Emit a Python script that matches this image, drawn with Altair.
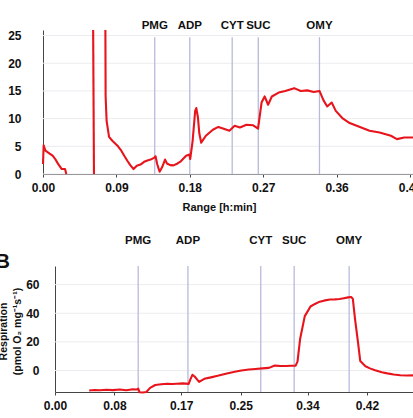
import altair as alt
import pandas as pd

FONT = "Liberation Sans"
RED = "#e8141b"
EVENT_COLOR = "#b8badc"
AXIS_COLOR = "#444444"
GRID_COLOR = "#ececf0"

# ---- Panel A: oxygen flux trace, recorded in three segments ----
a_seg1_time = [0.000, 0.0008, 0.003, 0.006, 0.009, 0.0118, 0.015, 0.0174, 0.020, 0.023, 0.027, 0.0286]
a_seg1_flux = [1.8, 5.2, 4.2, 3.9, 3.6, 3.3, 2.7, 2.1, 1.5, 0.9, 0.9, 0.0]

a_seg2_time = [0.0615, 0.0625]
a_seg2_flux = [26.0, 0.0]

a_seg3_time = [0.0765, 0.0768, 0.078, 0.081, 0.085, 0.0885, 0.092, 0.096, 0.100, 0.1034,
               0.107, 0.111, 0.115, 0.1195, 0.124, 0.128, 0.132, 0.136, 0.138, 0.140,
               0.143, 0.146, 0.1497, 0.152, 0.156, 0.160, 0.165, 0.169, 0.1755, 0.1795,
               0.1805, 0.1835, 0.1866, 0.188, 0.190, 0.1917, 0.194, 0.1997, 0.2083, 0.215,
               0.2207, 0.2286, 0.235, 0.2415, 0.2495, 0.2577, 0.2637, 0.268, 0.2718, 0.276,
               0.2806, 0.289, 0.297, 0.308, 0.316, 0.324, 0.332, 0.339, 0.344, 0.3485,
               0.354, 0.359, 0.367, 0.376, 0.3886, 0.4004, 0.4127, 0.4266, 0.434, 0.443,
               0.4537]
a_seg3_flux = [26.0, 14.0, 9.6, 6.7, 6.0, 5.5, 5.0, 4.2, 3.2, 2.4,
               1.6, 0.9, 1.5, 1.7, 2.2, 2.45, 2.6, 2.9, 3.2, 1.8,
               0.4, 1.2, 2.6, 1.9, 1.6, 1.55, 1.9, 2.3, 3.3, 3.5,
               2.7, 6.0, 11.4, 11.9, 10.2, 7.3, 5.65, 6.9, 8.0, 8.5,
               8.2, 7.8, 8.7, 8.4, 8.9, 8.8, 8.2, 12.9, 14.0, 12.5,
               14.0, 14.7, 15.0, 15.5, 15.0, 15.1, 14.8, 15.0, 13.3, 12.2,
               12.9, 11.4, 10.1, 9.2, 8.5, 7.8, 7.5, 6.9, 6.3, 6.6,
               6.6]

# ---- Panel B: oxygen flux trace ----
b_time = [0.046, 0.053, 0.0605, 0.069, 0.078, 0.087, 0.096, 0.103, 0.110, 0.112,
          0.114, 0.118, 0.123, 0.128, 0.135, 0.143, 0.151, 0.158, 0.164, 0.172,
          0.180, 0.182, 0.185, 0.188, 0.194, 0.201, 0.210, 0.219, 0.230, 0.242,
          0.251, 0.261, 0.270, 0.279, 0.288, 0.296, 0.304, 0.311, 0.318, 0.324,
          0.3265, 0.330, 0.3363, 0.344, 0.350, 0.355, 0.362, 0.370, 0.377, 0.383,
          0.389, 0.3946, 0.399, 0.401, 0.404, 0.408, 0.411, 0.418, 0.424, 0.431,
          0.440, 0.4475, 0.456, 0.465, 0.474, 0.482]
b_flux = [-14.0, -13.6, -13.8, -13.4, -13.7, -13.3, -13.8, -13.2, -13.3, -12.6,
          -15.2, -15.3, -15.0, -12.1, -10.1, -9.6, -9.2, -9.4, -9.2, -9.0,
          -9.3, -6.5, -3.0, -4.2, -7.9, -5.8, -4.8, -3.7, -2.2, -0.8,
          0.0, 0.7, 1.1, 1.5, 1.85, 3.45, 3.2, 3.15, 3.3, 3.4,
          6.2, 22.0, 38.0, 44.7, 46.5, 47.8, 48.8, 49.6, 49.7, 49.9,
          50.5, 51.1, 51.3, 50.0, 35.8, 19.5, 6.6, 3.0, 1.5, 0.2,
          -1.2, -2.0, -2.8, -3.3, -3.5, -3.4]

# ---- Substrate / inhibitor additions ----
event_names = ["PMG", "ADP", "CYT", "SUC", "OMY"]
a_event_time = [0.137, 0.180, 0.232, 0.264, 0.339]
b_event_time = [0.112, 0.179, 0.277, 0.322, 0.396]

# ---- Axis ticks ----
a_xticks = [0.00, 0.09, 0.18, 0.27, 0.36, 0.45]
a_yticks = [0, 5, 10, 15, 20, 25]
b_xticks = [0.00, 0.08, 0.17, 0.25, 0.34, 0.42]
b_yticks = [0, 20, 40, 60]

W, H = 413, 418

# Frame of each panel inside the shared canvas
A_X = alt.Scale(domain=[0, 0.4537], range=[43, 413], nice=False, zero=False)
A_Y = alt.Scale(domain=[0, 26], range=[174, 30], nice=False, zero=False)
B_X = alt.Scale(domain=[0, 0.482], range=[55, 413], nice=False, zero=False)
B_Y = alt.Scale(domain=[-15, 73], range=[392, 266], nice=False, zero=False)
A_TOP, B_TOP = 24.7, 73.0

a_df = pd.concat([
    pd.DataFrame({"t": a_seg1_time, "v": a_seg1_flux, "seg": 1}),
    pd.DataFrame({"t": a_seg2_time, "v": a_seg2_flux, "seg": 2}),
    pd.DataFrame({"t": a_seg3_time, "v": a_seg3_flux, "seg": 3}),
], ignore_index=True)
b_df = pd.DataFrame({"t": b_time, "v": b_flux})
a_ev = pd.DataFrame({"t": a_event_time, "event": event_names})
b_ev = pd.DataFrame({"t": b_event_time, "event": event_names})
a_grid = pd.DataFrame({"v": a_yticks})
b_grid = pd.DataFrame({"v": b_yticks})

label_style = dict(labelFont=FONT, labelFontSize=12, labelFontWeight="bold",
                   labelColor="#111111", domainColor=AXIS_COLOR, tickColor=AXIS_COLOR,
                   grid=False, labelFlush=False, labelOverlap=False)


def panel(df, ev, grid, xs, ys, xticks, yticks, x_off, y_off, y_label_pad,
          top, label_dy, x_title=None, y_title=None, detail=None):
    x_axis_kw = dict(orient="bottom", offset=y_off, values=xticks, format=".2f",
                     tickSize=3, labelPadding=5, **label_style)
    if x_title:
        x_axis_kw.update(title=x_title, titleFont=FONT, titleFontSize=11,
                         titleFontWeight="bold", titleColor="#111111",
                         titleX=219, titleY=33, titleBaseline="middle")
    else:
        x_axis_kw.update(title="")
    y_axis_kw = dict(orient="left", offset=x_off, values=yticks, ticks=False,
                     labelPadding=y_label_pad, **label_style)
    if y_title:
        y_axis_kw.update(title=y_title, titleFont=FONT, titleFontSize=10.5,
                         titleFontWeight="bold", titleColor="#111111",
                         titleAngle=270, titleX=-52, titleY=331,
                         titleBaseline="middle", titleLineHeight=14,
                         titleAlign="center")
    else:
        y_axis_kw.update(title="")
    x_axis = alt.Axis(**x_axis_kw)
    y_axis = alt.Axis(**y_axis_kw)

    gridlines = alt.Chart(grid).mark_rule(color=GRID_COLOR, strokeWidth=1).encode(
        y=alt.Y("v:Q", scale=ys, axis=y_axis),
        x=alt.datum(xs.domain[0], scale=xs, axis=x_axis),
        x2=alt.datum(xs.domain[1]),
    )
    rules = alt.Chart(ev).mark_rule(color=EVENT_COLOR, strokeWidth=1.3).encode(
        x=alt.X("t:Q", scale=xs, axis=x_axis),
        y=alt.datum(ys.domain[0], scale=ys, axis=y_axis),
        y2=alt.datum(top),
    )
    labels = alt.Chart(ev).mark_text(
        font=FONT, fontSize=11.5, fontWeight="bold", color="#111111",
        baseline="middle", dy=label_dy,
    ).encode(
        x=alt.X("t:Q", scale=xs, axis=x_axis),
        y=alt.datum(top, scale=ys, axis=y_axis),
        text="event:N",
    )
    enc = dict(x=alt.X("t:Q", scale=xs, axis=x_axis),
               y=alt.Y("v:Q", scale=ys, axis=y_axis))
    if detail:
        enc["detail"] = detail
    trace = alt.Chart(df).mark_line(color=RED, strokeWidth=2.1,
                                    strokeJoin="round").encode(**enc)
    return alt.layer(gridlines, rules, trace, labels)


panel_a = panel(a_df, a_ev, a_grid, A_X, A_Y, a_xticks, a_yticks,
                x_off=-43, y_off=174 - H, y_label_pad=22, top=A_TOP, label_dy=-11,
                x_title="Range [h:min]", detail="seg:N")
panel_b = panel(b_df, b_ev, b_grid, B_X, B_Y, b_xticks, b_yticks,
                x_off=-55, y_off=392 - H, y_label_pad=16, top=B_TOP, label_dy=-25,
                y_title=["Respiration", "(pmol O\u2082 mg\u207b\u00b9s\u207b\u00b9)"])

letter = alt.Chart(pd.DataFrame({"name": ["B"]})).mark_text(
    font=FONT, fontSize=20, fontWeight="bold", color="#111111",
    align="right", baseline="alphabetic",
).encode(x=alt.value(10), y=alt.value(268), text="name:N")

chart = alt.layer(panel_a, panel_b, letter).resolve_scale(
    x="independent", y="independent"
).resolve_axis(
    x="independent", y="independent"
).properties(
    width=W, height=H, autosize=alt.AutoSizeParams(type="none"),
    padding=0, background="white",
).configure_view(stroke=None)

chart.save("out.html", embed_options={"renderer": "svg", "actions": False})
